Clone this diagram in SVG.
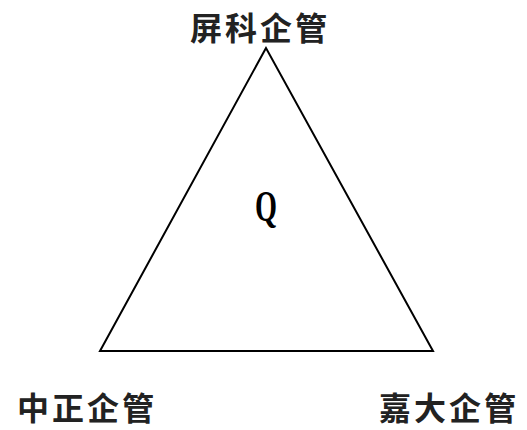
<svg xmlns="http://www.w3.org/2000/svg" width="527" height="430" viewBox="0 0 527 430">
<style>
.lbl{font-family:"Noto Sans CJK TC","Noto Sans CJK SC",sans-serif;font-size:32px;font-weight:bold;fill:#222;text-anchor:middle;letter-spacing:3px}
.q{font-family:"Liberation Serif",serif;font-size:44px;font-weight:bold;fill:#000;text-anchor:middle}
</style>
<rect width="527" height="430" fill="#fff"/>
<g id="connectors">
<polygon points="266,48 100,351 433,351" fill="none" stroke="#000" stroke-width="2" stroke-linejoin="miter"/>
</g>
<g id="node-top"><text class="lbl" x="260" y="40">屏科企管</text></g>
<g id="node-center"><text class="q" x="266" y="221" textLength="22" lengthAdjust="spacingAndGlyphs">Q</text></g>
<g id="node-left"><text class="lbl" x="87" y="420">中正企管</text></g>
<g id="node-right"><text class="lbl" x="449" y="420">嘉大企管</text></g>
</svg>
